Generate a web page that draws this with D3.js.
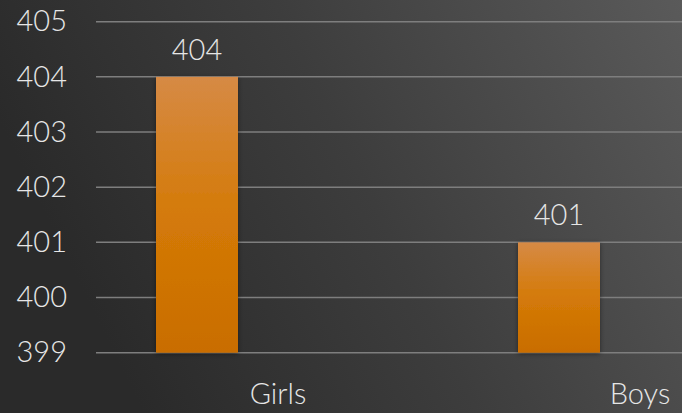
<!DOCTYPE html>
<html lang="en">
<head>
    <meta charset="UTF-8">
    <title>Girls vs Boys</title>
    <script src="https://d3js.org/d3.v7.min.js"></script>
    <style>
        html, body { margin: 0; padding: 0; background: #2b2b2b; }
        svg { display: block; }
        text { font-family: "Lato", "Open Sans", sans-serif; font-weight: 300; fill: #e6e6e6; }
    </style>
</head>
<body>
    <div class="canvas"></div>
    <script>
        const categories = ['Girls', 'Boys'];
        const values = [404, 401];
        const yTicks = [399, 400, 401, 402, 403, 404, 405];

        const width = 682;
        const height = 413;

        const svg = d3.select('.canvas')
                    .append('svg')
                    .attr('width', width)
                    .attr('height', height);

        const defs = svg.append('defs');

        // background: dark on the left, lighter to the right
        const bg = defs.append('linearGradient')
            .attr('id', 'bg')
            .attr('x1', '0%').attr('y1', '30%')
            .attr('x2', '100%').attr('y2', '0%');
        bg.append('stop').attr('offset', '0%').attr('stop-color', '#2a2a2a');
        bg.append('stop').attr('offset', '45%').attr('stop-color', '#3d3d3d');
        bg.append('stop').attr('offset', '100%').attr('stop-color', '#5a5a5a');

        const barGrad = defs.append('linearGradient')
            .attr('id', 'barGrad')
            .attr('x1', '0').attr('y1', '0')
            .attr('x2', '0').attr('y2', '1');
        barGrad.append('stop').attr('offset', '0%').attr('stop-color', '#d68a45');
        barGrad.append('stop').attr('offset', '50%').attr('stop-color', '#d47a08');
        barGrad.append('stop').attr('offset', '100%').attr('stop-color', '#c96d00');

        const shadow = defs.append('filter')
            .attr('id', 'shadow')
            .attr('x', '-20%').attr('y', '-10%')
            .attr('width', '140%').attr('height', '120%');
        shadow.append('feDropShadow')
            .attr('dx', 0).attr('dy', 1)
            .attr('stdDeviation', 2.5)
            .attr('flood-color', '#000')
            .attr('flood-opacity', 0.45);

        svg.append('rect')
            .attr('width', width)
            .attr('height', height)
            .attr('fill', 'url(#bg)');

        const y = d3.scaleLinear()
            .domain([399, 405])
            .range([352.7, 21.7]);

        // inner padding p with outer p/2 -> step = range / n
        const x = d3.scaleBand()
            .domain(categories)
            .range([16, 740])
            .paddingInner(0.7735)
            .paddingOuter(0.7735 / 2);

        // gridlines
        svg.append('g')
            .selectAll('line')
            .data(yTicks)
            .enter()
            .append('line')
            .attr('x1', 96)
            .attr('x2', width)
            .attr('y1', d => y(d))
            .attr('y2', d => y(d))
            .attr('stroke', '#7e7e7e')
            .attr('stroke-width', 1.5);

        // y axis labels
        const yAxisG = svg.append('g')
            .attr('transform', 'translate(67, 0)')
            .call(d3.axisLeft(y).tickValues(yTicks).tickSize(0).tickPadding(0).tickFormat(d3.format('d')));
        yAxisG.select('.domain').remove();
        yAxisG.selectAll('text')
            .attr('fill', '#e6e6e6')
            .style('font-size', '29px')
            .style('font-family', 'Lato, sans-serif')
            .style('font-weight', 300);

        // bars
        svg.append('g')
            .selectAll('rect')
            .data(values)
            .enter()
            .append('rect')
            .attr('x', (d, i) => x(categories[i]))
            .attr('y', d => y(d))
            .attr('width', x.bandwidth())
            .attr('height', d => y(399) - y(d))
            .attr('fill', 'url(#barGrad)')
            .attr('filter', 'url(#shadow)');

        // value labels
        svg.append('g')
            .selectAll('text')
            .data(values)
            .enter()
            .append('text')
            .attr('x', (d, i) => x(categories[i]) + x.bandwidth() / 2)
            .attr('y', d => y(d) - 17)
            .attr('text-anchor', 'middle')
            .style('font-size', '29px')
            .text(d => d);

        // category labels sit to the right of their bars
        const xAxisG = svg.append('g')
            .attr('transform', 'translate(81, 404)')
            .call(d3.axisBottom(x).tickSize(0).tickPadding(0));
        xAxisG.select('.domain').remove();
        xAxisG.selectAll('text')
            .attr('dy', 0)
            .attr('y', 0)
            .attr('fill', '#e6e6e6')
            .style('font-size', '29px')
            .style('font-family', 'Lato, sans-serif')
            .style('font-weight', 300);
    </script>
</body>
</html>
